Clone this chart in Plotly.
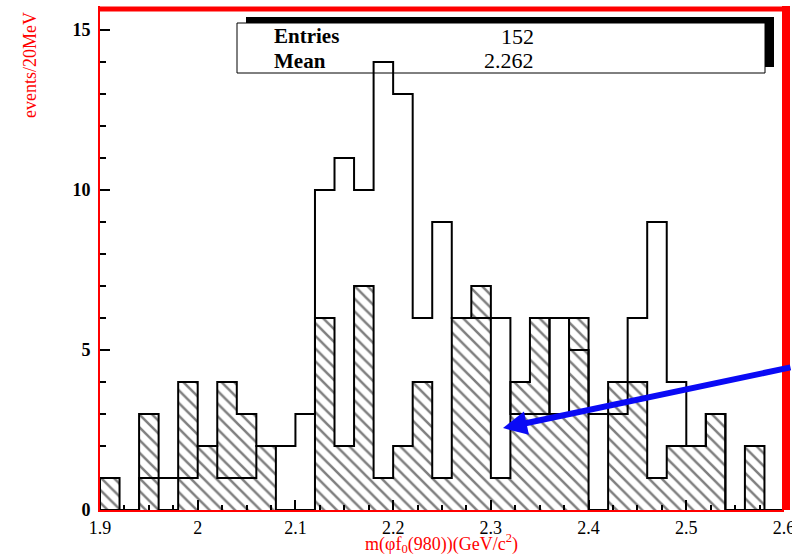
import plotly.graph_objects as go

# Binning: 35 bins of 20 MeV between 1.90 and 2.60 GeV/c^2
bin_low = [round(1.90 + 0.02 * i, 2) for i in range(35)]
bin_width = 0.02

# Total sample (open histogram)
counts_total = [0, 0, 1, 1, 1, 2, 1, 1, 2, 2, 3, 10, 11, 10, 14, 13, 6, 9,
                6, 6, 6, 3, 3, 6, 5, 3, 3, 6, 9, 4, 2, 3, 0, 0, 0]
# Hatched histogram
counts_hatched = [1, 0, 3, 0, 4, 2, 4, 3, 2, 0, 0, 6, 2, 7, 1, 2, 4, 1,
                  6, 7, 1, 4, 6, 3, 6, 0, 4, 4, 1, 2, 2, 3, 0, 2, 0]

x_tick_vals = [1.9, 2.0, 2.1, 2.2, 2.3, 2.4, 2.5, 2.6]
x_tick_text = ["1.9", "2", "2.1", "2.2", "2.3", "2.4", "2.5", "2.6"]
y_tick_vals = [0, 5, 10, 15]

stat_labels = ["Entries", "Mean"]
stat_values = ["152", "2.262"]

x_title = "m(φf<sub>0</sub>(980))(GeV/c<sup>2</sup>)"
y_title = "events/20MeV"

SERIF = "Liberation Serif, Times New Roman, serif"
RED = "#ff0000"

# plot-area geometry in pixels
L, R, T, B = 100, 784, 6, 510
W, H = R - L, B - T


def px(xp):
    return (xp - L) / W


def py(yp):
    return (B - yp) / H


def step_xy(counts):
    xs = [bin_low[0]] + bin_low + [bin_low[-1] + bin_width]
    ys = [0] + counts + [0]
    return xs, ys


centers = [b + bin_width / 2 for b in bin_low]

fig = go.Figure()

fig.add_trace(go.Bar(
    x=centers, y=counts_hatched, width=bin_width,
    marker=dict(color="rgba(0,0,0,0)", line=dict(width=0),
                pattern=dict(shape="\\", size=9, solidity=0.28,
                             fgcolor="black", bgcolor="rgba(0,0,0,0)")),
    showlegend=False, hoverinfo="skip"))

hx, hy = step_xy(counts_hatched)
fig.add_trace(go.Scatter(x=hx, y=hy, mode="lines", line_shape="hv",
                         line=dict(color="black", width=2),
                         showlegend=False, hoverinfo="skip"))

tx, ty = step_xy(counts_total)
fig.add_trace(go.Scatter(x=tx, y=ty, mode="lines", line_shape="hv",
                         line=dict(color="black", width=2),
                         showlegend=False, hoverinfo="skip"))

shapes = [
    # stats box shadow and box
    dict(type="rect", xref="paper", yref="paper", layer="below",
         x0=px(246), x1=px(774), y0=py(67), y1=py(17),
         fillcolor="black", line=dict(width=0)),
    dict(type="rect", xref="paper", yref="paper", layer="below",
         x0=px(237), x1=px(765), y0=py(73), y1=py(23),
         fillcolor="white", line=dict(color="black", width=1)),
    # heavy frame on top and right
    dict(type="line", xref="paper", yref="paper",
         x0=0, x1=px(790), y0=py(9), y1=py(9),
         line=dict(color=RED, width=5)),
    dict(type="line", xref="paper", yref="paper",
         x0=px(786), x1=px(786), y0=py(510), y1=py(6),
         line=dict(color=RED, width=8)),
]

annotations = []
for i, (lab, val) in enumerate(zip(stat_labels, stat_values)):
    yc = py(36 + 25 * i)
    annotations.append(dict(xref="paper", yref="paper", x=px(272), y=yc,
                            xanchor="left", yanchor="middle", text=f"<b>{lab}</b>",
                            showarrow=False, font=dict(family=SERIF, size=21, color="black")))
    annotations.append(dict(xref="paper", yref="paper", x=px(536), y=yc,
                            xanchor="right", yanchor="middle", text=val,
                            showarrow=False, font=dict(family=SERIF, size=22, color="black")))

annotations.append(dict(xref="paper", yref="paper", x=px(441), y=py(543),
                        xanchor="center", yanchor="middle", text=x_title,
                        showarrow=False, font=dict(family=SERIF, size=18, color=RED)))
annotations.append(dict(xref="paper", yref="paper", x=px(30), y=py(10),
                        xanchor="center", yanchor="top", text=y_title, textangle=-90,
                        showarrow=False, font=dict(family=SERIF, size=18, color=RED)))

# blue arrow pointing into the 2.30-2.32 bin
arrow_x, arrow_y = 2.3124, 2.56
annotations.append(dict(x=arrow_x, y=arrow_y, xref="x", yref="y", text="",
                        showarrow=True, ax=289, ay=-61, axref="pixel", ayref="pixel",
                        arrowhead=2, arrowsize=0.8, arrowwidth=6, arrowcolor="#0a0af5",
                        standoff=0, startstandoff=0))

fig.update_layout(
    width=792, height=555,
    margin=dict(l=L, r=792 - R, t=T, b=555 - B, autoexpand=False),
    paper_bgcolor="white", plot_bgcolor="rgba(0,0,0,0)",
    bargap=0, barmode="overlay",
    shapes=shapes, annotations=annotations,
    xaxis=dict(range=[1.9, 2.6], tickvals=x_tick_vals, ticktext=x_tick_text,
               showgrid=False, zeroline=False, automargin=False,
               showline=True, linecolor=RED, linewidth=2,
               ticks="inside", ticklen=10, tickwidth=2, tickcolor="black",
               minor=dict(dtick=0.025, tick0=1.9, ticks="inside", ticklen=5, tickwidth=1.5,
                          tickcolor="black", showgrid=False),
               tickfont=dict(family=SERIF, size=18, color="black"),
               ticklabelstandoff=0, ticklabeloverflow="allow"),
    yaxis=dict(range=[0, 15.75], tickvals=y_tick_vals, showgrid=False, zeroline=False,
               automargin=False,
               showline=True, linecolor=RED, linewidth=2,
               ticks="inside", ticklen=10, tickwidth=2, tickcolor="black",
               minor=dict(dtick=1, ticks="inside", ticklen=6, tickwidth=1.5,
                          tickcolor="black", showgrid=False),
               tickfont=dict(family=SERIF, size=18, color="black", weight="bold"),
               ticklabelstandoff=4),
)

fig.write_html("out.html")
